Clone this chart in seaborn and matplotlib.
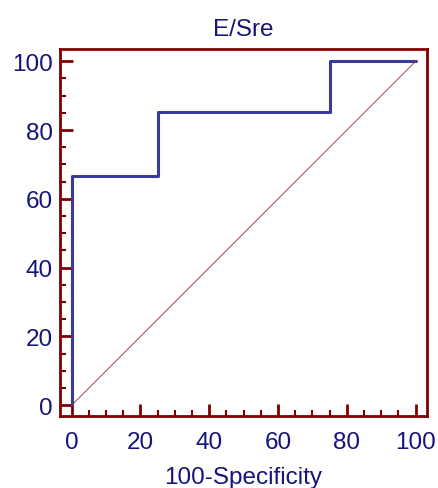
import matplotlib
matplotlib.use("Agg")
import matplotlib.pyplot as plt
import seaborn as sns
import pandas as pd
from matplotlib.ticker import MultipleLocator

fpr = [0, 0, 25, 25, 75, 75, 100]
tpr = [0, 66.7, 66.7, 85.2, 85.2, 100, 100]
diag_x = [0, 100]
diag_y = [0, 100]
ticks = [0, 20, 40, 60, 80, 100]

sns.set_theme(style="white")
plt.rcParams['font.family'] = ['Liberation Sans', 'DejaVu Sans']

maroon = "#800000"
navy = "#14147a"
curve = "#3a3a9c"

fig = plt.figure(figsize=(4.38, 4.89), dpi=100)
ax = fig.add_axes([0.137, 0.147, 0.837, 0.751])

df = pd.DataFrame({"x": fpr, "y": tpr})
sns.lineplot(data=df, x="x", y="y", sort=False, estimator=None, color=curve, linewidth=2.2, ax=ax)
sns.lineplot(x=diag_x, y=diag_y, color="#a02828", linewidth=0.6, ax=ax)

ax.set_xlim(-3.4, 103.2)
ax.set_ylim(-3.2, 103.6)
ax.set_xticks(ticks)
ax.set_yticks(ticks)
ax.xaxis.set_minor_locator(MultipleLocator(5))
ax.yaxis.set_minor_locator(MultipleLocator(5))
ax.tick_params(which="major", direction="in", length=9, width=2, color=maroon,
               labelcolor=navy, labelsize=17.5)
ax.tick_params(which="minor", direction="in", length=4.5, width=1.5, color=maroon)
ax.tick_params(axis="x", which="both", bottom=True, top=False, pad=11)
ax.tick_params(axis="y", which="both", left=True, right=False, pad=5)
for s in ax.spines.values():
    s.set_color(maroon)
    s.set_linewidth(2)

ax.set_title("E/Sre", color=navy, fontsize=17.5, pad=10)
ax.set_xlabel("100-Specificity", color=navy, fontsize=17.5, labelpad=9)
ax.set_ylabel("")

fig.savefig("out.png", dpi=100)
